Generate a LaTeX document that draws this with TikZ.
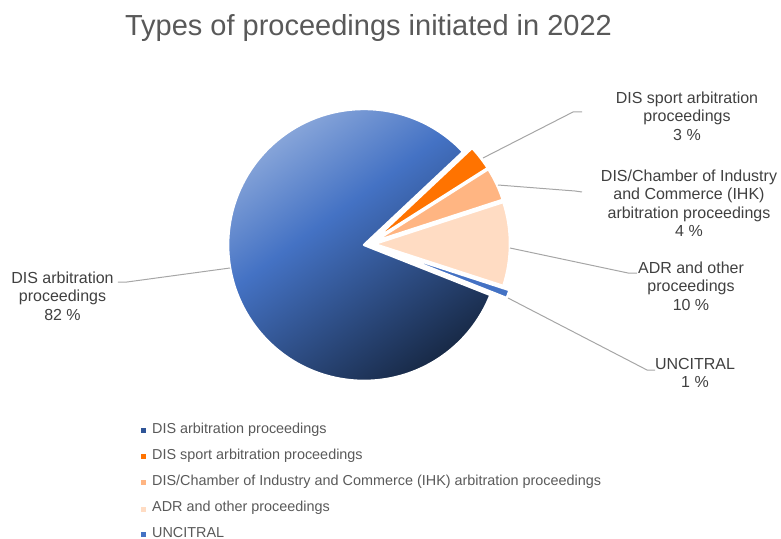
\documentclass[tikz,border=0pt]{standalone}
\usepackage{fontspec}
\setmainfont{Liberation Sans}
\usetikzlibrary{positioning}

\definecolor{disblue}{HTML}{4472C4}
\definecolor{lightblue}{HTML}{93AEDD}
\definecolor{darkblue}{HTML}{172844}
\definecolor{legblue}{HTML}{2F5597}
\definecolor{sportorange}{HTML}{FF7300}
\definecolor{ihkorange}{HTML}{FFB582}
\definecolor{adrpeach}{HTML}{FFDCC3}
\definecolor{leadergray}{HTML}{A6A6A6}
\definecolor{labelgray}{HTML}{404040}
\definecolor{titlegray}{HTML}{595959}

\pgfdeclareverticalshading{bigpie}{100bp}{color(0bp)=(darkblue); color(25bp)=(darkblue); color(56bp)=(disblue); color(75bp)=(lightblue); color(100bp)=(lightblue)}

\tikzset{
    slice/.style = {
        draw=white,
        line width=2.5pt,
        line join=round
    },
    leader/.style = {
        leadergray,
        line width=1pt
    },
    datalabel/.style = {
        align=center,
        inner sep=0pt,
        text=labelgray,
        font=\fontsize{16}{18.5}\selectfont
    },
    legtext/.style = {
        anchor=base west,
        inner sep=0pt,
        text=titlegray,
        font=\fontsize{14.4}{17}\selectfont
    },
    legmark/.style = {
        minimum size=5pt,
        inner sep=0pt
    }
}

\begin{document}
\begin{tikzpicture}[x=1pt, y=1pt]
    \useasboundingbox (-369,-294) rectangle (412,244);

    % Title
    \node[anchor=base, inner sep=0pt, text=titlegray, font=\fontsize{29}{35}\selectfont] (title) at (-0.5,208) {Types of proceedings initiated in 2022};

    % Draw slices
    \shadedraw[slice, shift={(190.8:5)}, shading=bigpie, shading angle=36]
        (0,0) -- (43.2:136) arc[start angle=43.2, end angle=338.4, radius=136] -- cycle;
    \filldraw[slice, fill=sportorange, shift={(37.8:5)}]
        (0,0) -- (32.4:136) arc[start angle=32.4, end angle=43.2, radius=136] -- cycle;
    \filldraw[slice, fill=ihkorange, shift={(25.2:5)}]
        (0,0) -- (18:136) arc[start angle=18, end angle=32.4, radius=136] -- cycle;
    \filldraw[slice, fill=adrpeach, shift={(0:5)}]
        (0,0) -- (-18:136) arc[start angle=-18, end angle=18, radius=136] -- cycle;
    \filldraw[slice, fill=disblue, shift={(-19.8:12)}]
        (0,0) -- (-21.6:136) arc[start angle=-21.6, end angle=-18, radius=136] -- cycle;

    % Draw labels
    \node[datalabel] (lblbig) at (-306.5,-52) {DIS arbitration\\proceedings\\82 \%};
    \node[datalabel] (lblsport) at (318,128) {DIS sport arbitration\\proceedings\\3 \%};
    \node[datalabel] (lblihk) at (320,41) {DIS/Chamber of Industry\\and Commerce (IHK)\\arbitration proceedings\\4 \%};
    \node[datalabel] (lbladr) at (322,-42) {ADR and other\\proceedings\\10 \%};
    \node[datalabel] (lblunc) at (326,-129) {UNCITRAL\\1 \%};

    % Draw leader lines
    \coordinate (pbig) at (-139,-24);
    \coordinate (kbig) at (-242,-38);
    \coordinate (ebig) at (-251,-38);
    \coordinate (psport) at (114,86);
    \coordinate (ksport) at (204,132);
    \coordinate (esport) at (213,132);
    \coordinate (pihk) at (129,59);
    \coordinate (kihk) at (206,53);
    \coordinate (eihk) at (213,52);
    \coordinate (padr) at (141,-4);
    \coordinate (kadr) at (259,-29);
    \coordinate (eadr) at (268,-29);
    \coordinate (punc) at (139,-54);
    \coordinate (kunc) at (278,-126);
    \coordinate (eunc) at (286,-126);
    \draw[leader] (pbig) -- (kbig) -- (ebig);
    \draw[leader] (psport) -- (ksport) -- (esport);
    \draw[leader] (pihk) -- (kihk) -- (eihk);
    \draw[leader] (padr) -- (kadr) -- (eadr);
    \draw[leader] (punc) -- (kunc) -- (eunc);

    % Legend
    \node[legtext] (legbig) at (-217,-189) {DIS arbitration proceedings};
    \node[legtext] (legsport) at (-217,-215.3) {DIS sport arbitration proceedings};
    \node[legtext] (legihk) at (-217,-241.6) {DIS/Chamber of Industry and Commerce (IHK) arbitration proceedings};
    \node[legtext] (legadr) at (-217,-267.9) {ADR and other proceedings};
    \node[legtext] (legunc) at (-217,-293) {UNCITRAL};
    \node[legmark, fill=legblue, left=5.5pt of legbig.mid west] (mkbig) {};
    \node[legmark, fill=sportorange, left=5.5pt of legsport.mid west] (mksport) {};
    \node[legmark, fill=ihkorange, left=5.5pt of legihk.mid west] (mkihk) {};
    \node[legmark, fill=adrpeach, left=5.5pt of legadr.mid west] (mkadr) {};
    \node[legmark, fill=disblue, left=5.5pt of legunc.mid west] (mkunc) {};
\end{tikzpicture}
\end{document}
